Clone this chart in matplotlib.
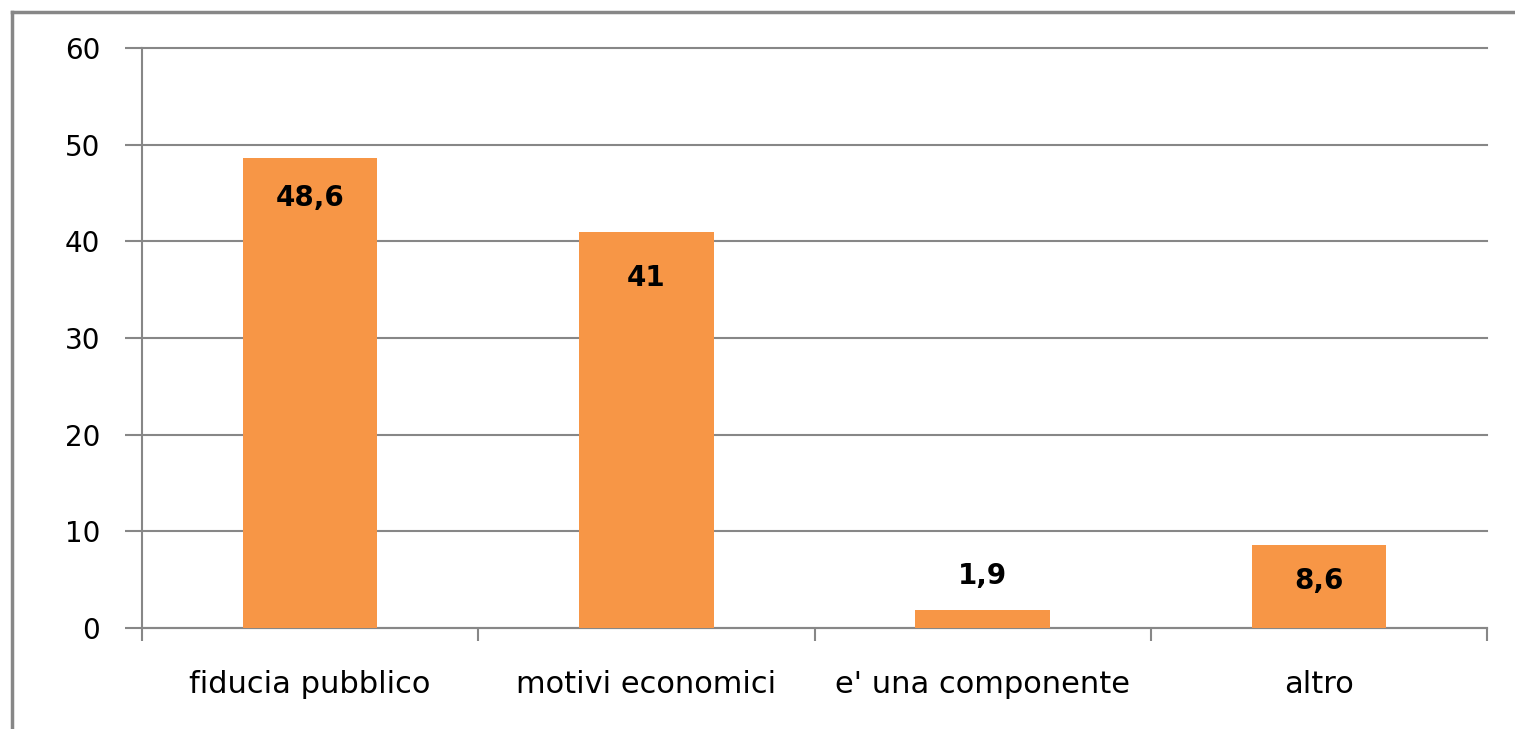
import matplotlib.pyplot as plt
from matplotlib.lines import Line2D
import numpy as np

categorie = ["fiducia pubblico", "motivi economici", "e' una componente", "altro"]
valori = [48.6, 41, 1.9, 8.6]
etichette = ["48,6", "41", "1,9", "8,6"]
# punto in cui sta il centro di ogni etichetta (in unità dell'asse y)
pos_etichette = [44.5, 36.2, 5.4, 4.9]

grigio = "#878787"
arancio = "#F79646"

fig = plt.figure(figsize=(15.15, 7.29), dpi=100)
ax = fig.add_axes([142/1515, 101/729, 1345/1515, 580/729])

x = np.arange(len(categorie))
ax.bar(x, valori, width=0.4, color=arancio, zorder=3)

for xi, lab, yi in zip(x, etichette, pos_etichette):
    ax.text(xi, yi, lab, ha="center", va="center", fontsize=20,
            fontweight="bold", color="black", zorder=4)

ax.set_xlim(-0.5, len(categorie) - 0.5)
ax.set_ylim(0, 60)
ax.set_yticks(np.arange(0, 61, 10))
ax.yaxis.grid(True, color=grigio, linewidth=1.5, zorder=0)
for gl in ax.get_ygridlines():
    gl.set_clip_on(False)

ax.set_xticks(x)
ax.set_xticklabels(categorie, fontsize=22)
ax.set_xticks(np.arange(-0.5, len(categorie), 1), minor=True)
ax.tick_params(axis="x", which="major", length=0, pad=30)
ax.tick_params(axis="x", which="minor", length=9, width=1.5, color=grigio)
ax.tick_params(axis="y", length=12, width=1.5, color=grigio, pad=18, labelsize=20)

for s in ["top", "right"]:
    ax.spines[s].set_visible(False)
for s in ["left", "bottom"]:
    ax.spines[s].set_color(grigio)
    ax.spines[s].set_linewidth(1.5)

# cornice esterna (solo lato sinistro e alto)
fig.add_artist(Line2D([12/1515, 12/1515], [0, 1 - 12/729], color=grigio, linewidth=2.5))
fig.add_artist(Line2D([12/1515, 1], [1 - 12/729, 1 - 12/729], color=grigio, linewidth=2.5))

fig.savefig("out.png", dpi=100, facecolor="white")
